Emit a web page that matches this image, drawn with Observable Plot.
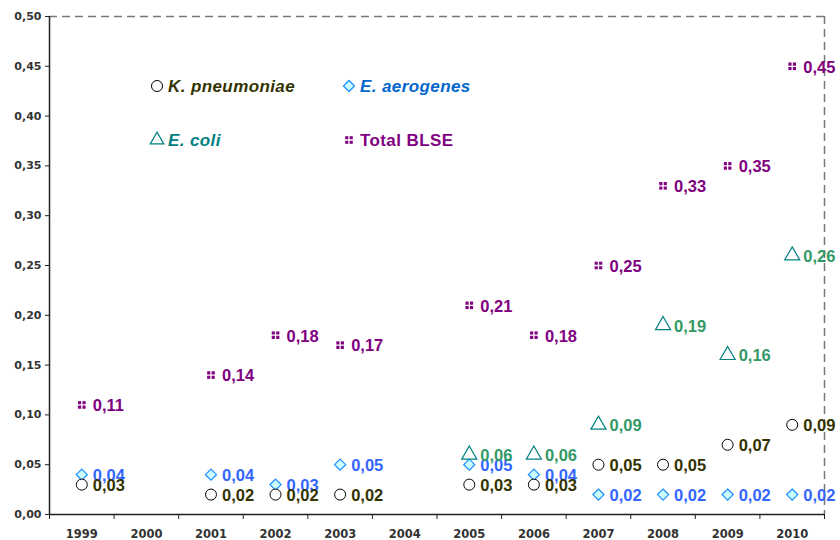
<!DOCTYPE html>
<html>
<head>
<meta charset="utf-8">
<script src="https://cdn.jsdelivr.net/npm/d3@7"></script>
<script src="https://cdn.jsdelivr.net/npm/@observablehq/plot@0.6"></script>
<style>
  body { margin: 0; background: #fff; }
  #wrap { position: relative; width: 840px; height: 540px; }
  #legend { position: absolute; left: 0; top: 0; pointer-events: none; }
</style>
</head>
<body>
<div id="wrap"></div>
<script>
const years = [1999, 2000, 2001, 2002, 2003, 2004, 2005, 2006, 2007, 2008, 2009, 2010];
const yTicks = [0, 0.05, 0.10, 0.15, 0.20, 0.25, 0.30, 0.35, 0.40, 0.45, 0.50];

const kpnYears = [1999, 2001, 2002, 2003, 2005, 2006, 2007, 2008, 2009, 2010];
const kpnValues = [0.03, 0.02, 0.02, 0.02, 0.03, 0.03, 0.05, 0.05, 0.07, 0.09];

const aerYears = [1999, 2001, 2002, 2003, 2005, 2006, 2007, 2008, 2009, 2010];
const aerValues = [0.04, 0.04, 0.03, 0.05, 0.05, 0.04, 0.02, 0.02, 0.02, 0.02];

const coliYears = [2005, 2006, 2007, 2008, 2009, 2010];
const coliValues = [0.06, 0.06, 0.09, 0.19, 0.16, 0.26];

const totalYears = [1999, 2001, 2002, 2003, 2005, 2006, 2007, 2008, 2009, 2010];
const totalValues = [0.11, 0.14, 0.18, 0.17, 0.21, 0.18, 0.25, 0.33, 0.35, 0.45];

const seriesNames = ["K. pneumoniae", "E. aerogenes", "E. coli", "Total BLSE"];

const toRows = (ys, vs) => ys.map((y, i) => ({year: y, value: vs[i]}));
const kpn = toRows(kpnYears, kpnValues);
const aer = toRows(aerYears, aerValues);
const coli = toRows(coliYears, coliValues);
const total = toRows(totalYears, totalValues);

const fmt = v => d3.format(".2f")(v).replace(".", ",");
const FONT = "Liberation Sans, Arial, Helvetica, sans-serif";
const AXFONT = "DejaVu Sans, Verdana, sans-serif";

const boundaries = years.map(y => y - 0.5).concat([years[years.length - 1] + 0.5]);

const labelOpts = (fill) => ({
  x: "year", y: "value", text: d => fmt(d.value),
  textAnchor: "start", dx: 11, dy: 1, fill,
  fontSize: 16.5, fontWeight: "bold", fontFamily: FONT
});

const chart = Plot.plot({
  width: 840,
  height: 540,
  marginLeft: 49,
  marginRight: 16,
  marginTop: 16,
  marginBottom: 26,
  style: {fontFamily: FONT, background: "#fff", overflow: "visible"},
  x: {type: "linear", domain: [years[0] - 0.5, years[years.length - 1] + 0.5]},
  y: {domain: [0, 0.5]},
  marks: [
    // frame
    Plot.ruleY([0.5], {stroke: "#777", strokeWidth: 1.5, strokeDasharray: "8,5"}),
    Plot.ruleX([years[years.length - 1] + 0.5], {stroke: "#777", strokeWidth: 1.5, strokeDasharray: "8,5"}),
    Plot.ruleX([years[0] - 0.5], {stroke: "#222", strokeWidth: 1.5}),
    Plot.ruleY([0], {stroke: "#222", strokeWidth: 1.5}),
    Plot.axisY({ticks: yTicks, tickFormat: fmt, tickSize: 4, tickPadding: 4,
      fontSize: 11, fontWeight: "bold", fontFamily: AXFONT, fill: "#333", stroke: "#222", label: null}),
    Plot.axisX({ticks: boundaries, tickFormat: () => "", tickSize: 5, stroke: "#222", label: null}),
    Plot.axisX({ticks: years, tickFormat: d => String(d), tickSize: 0, tickPadding: 15,
      fontSize: 11.5, fontWeight: "bold", fontFamily: AXFONT, fill: "#333", label: null}),
    // E. aerogenes
    Plot.dot(aer, {x: "year", y: "value", symbol: "diamond2", r: 5, fill: "#ccffff", stroke: "#1a8cff", strokeWidth: 1.2}),
    Plot.text(aer, labelOpts("#3366ff")),
    // E. coli
    Plot.dot(coli, {x: "year", y: "value", symbol: "triangle", r: 5.6, fill: "none", stroke: "#008080", strokeWidth: 1.2}),
    Plot.text(coli, labelOpts("#339966")),
    // K. pneumoniae
    Plot.dot(kpn, {x: "year", y: "value", symbol: "circle", r: 5.5, fill: "#fff", stroke: "#000", strokeWidth: 1}),
    Plot.text(kpn, labelOpts("#333300")),
    // Total BLSE
    Plot.dot(total, {x: "year", y: "value", symbol: "square", r: 4.3, fill: "#800080", stroke: "none"}),
    Plot.dot(total, {x: "year", y: "value", symbol: "plus", r: 5, fill: "none", stroke: "#fff", strokeWidth: 1.3}),
    Plot.text(total, labelOpts("#800080"))
  ]
});

const wrap = document.getElementById("wrap");
wrap.appendChild(chart);

// legend overlay
const legendItems = [
  {name: seriesNames[0], sym: "circle", col: 0, row: 0, color: "#333300", italic: true},
  {name: seriesNames[1], sym: "diamond", col: 1, row: 0, color: "#0066cc", italic: true},
  {name: seriesNames[2], sym: "triangle", col: 0, row: 1, color: "#008080", italic: true},
  {name: seriesNames[3], sym: "total", col: 1, row: 1, color: "#800080", italic: false}
];
const lsvg = d3.select(wrap).append("svg").attr("id", "legend")
  .attr("width", 840).attr("height", 540);
const colX = [157, 349], rowY = [86, 140];
for (const it of legendItems) {
  const g = lsvg.append("g").attr("transform", `translate(${colX[it.col]},${rowY[it.row]})`);
  if (it.sym === "circle") {
    g.append("circle").attr("r", 5.5).attr("fill", "#fff").attr("stroke", "#000").attr("stroke-width", 1);
  } else if (it.sym === "diamond") {
    g.append("path").attr("d", d3.symbol(d3.symbolDiamond2, 78)()).attr("fill", "#ccffff").attr("stroke", "#1a8cff").attr("stroke-width", 1.2);
  } else if (it.sym === "triangle") {
    g.append("path").attr("d", d3.symbol(d3.symbolTriangle, 80)()).attr("fill", "none").attr("stroke", "#008080").attr("stroke-width", 1.2);
  } else {
    g.append("path").attr("d", d3.symbol(d3.symbolSquare, 58)()).attr("fill", "#800080");
    g.append("path").attr("d", d3.symbol(d3.symbolPlus, 80)()).attr("fill", "none").attr("stroke", "#fff").attr("stroke-width", 1.3);
  }
  g.append("text").attr("x", 11).attr("y", 0).attr("dy", "0.35em")
    .attr("fill", it.color).attr("font-family", FONT).attr("font-size", 17)
    .attr("font-weight", "bold").attr("font-style", it.italic ? "italic" : "normal")
    .attr("letter-spacing", 0.4)
    .text(it.name);
}
</script>
</body>
</html>
